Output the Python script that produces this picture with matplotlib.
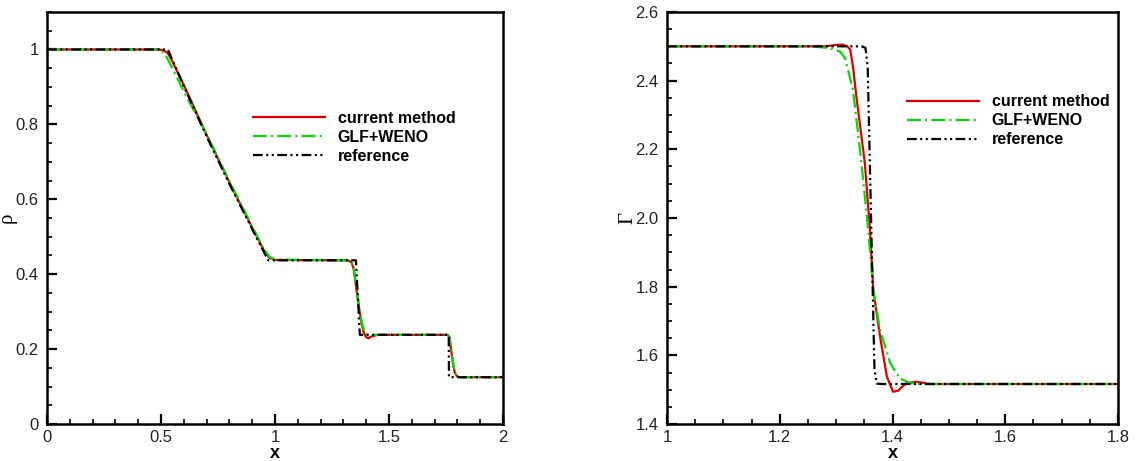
import numpy as np
import matplotlib
matplotlib.use("Agg")
import matplotlib.pyplot as plt
from matplotlib.ticker import MultipleLocator, FormatStrFormatter

plt.rcParams['font.family'] = ['Liberation Sans', 'DejaVu Sans']
plt.rcParams['lines.scale_dashes'] = False

# ---- left panel: density ----
x_rho_ref = [0.0, 0.53, 0.6, 0.7, 0.8, 0.9, 0.97, 1.355, 1.372, 1.762, 1.763, 2.0]
rho_ref = [1.0, 1.0, 0.902, 0.768, 0.641, 0.520, 0.437, 0.437, 0.238, 0.238, 0.125, 0.125]

x_rho_cur = [0.0, 0.49, 0.51, 0.53, 0.55, 0.6, 0.7, 0.8, 0.9, 0.95, 0.975, 1.0,
             1.32, 1.335, 1.345, 1.358, 1.37, 1.38, 1.39, 1.40, 1.41, 1.425, 1.45,
             1.758, 1.765, 1.772, 1.78, 1.788, 1.797, 1.81, 2.0]
rho_cur = [1.0, 1.0, 0.998, 0.99, 0.968, 0.905, 0.772, 0.645, 0.524, 0.465, 0.444, 0.438,
           0.437, 0.432, 0.415, 0.356, 0.305, 0.268, 0.243, 0.232, 0.229, 0.234, 0.238,
           0.238, 0.232, 0.2, 0.165, 0.138, 0.128, 0.125, 0.125]

x_rho_glf = [0.0, 0.48, 0.5, 0.52, 0.54, 0.57, 0.6, 0.7, 0.8, 0.9, 0.95, 0.975, 1.0,
             1.32, 1.335, 1.345, 1.358, 1.37, 1.38, 1.39, 1.40, 1.415, 1.43,
             1.757, 1.765, 1.772, 1.78, 1.788, 1.797, 1.81, 2.0]
rho_glf = [1.0, 1.0, 0.997, 0.985, 0.962, 0.925, 0.888, 0.774, 0.648, 0.528, 0.468, 0.447, 0.439,
           0.437, 0.433, 0.418, 0.36, 0.31, 0.273, 0.25, 0.241, 0.238, 0.238,
           0.238, 0.233, 0.205, 0.168, 0.14, 0.129, 0.125, 0.125]

# ---- right panel: Gamma ----
x_gam_ref = [1.0, 1.345, 1.352, 1.356, 1.362, 1.368, 1.372, 1.38, 1.8]
gam_ref = [2.5, 2.5, 2.496, 2.44, 2.0, 1.56, 1.518, 1.5165, 1.5165]

x_gam_cur = [1.0, 1.28, 1.30, 1.312, 1.32, 1.325, 1.33, 1.336, 1.351, 1.360, 1.366, 1.378,
             1.390, 1.401, 1.410, 1.418, 1.425, 1.443, 1.467, 1.8]
gam_cur = [2.5, 2.5, 2.504, 2.505, 2.5, 2.49, 2.44, 2.353, 2.159, 1.965, 1.79, 1.654,
           1.538, 1.494, 1.497, 1.51, 1.519, 1.523, 1.5165, 1.5165]

x_gam_glf = [1.0, 1.25, 1.27, 1.29, 1.307, 1.316, 1.330, 1.345, 1.357, 1.366, 1.378,
             1.396, 1.413, 1.431, 1.45, 1.8]
gam_glf = [2.5, 2.5, 2.498, 2.494, 2.485, 2.465, 2.373, 2.159, 1.965, 1.79, 1.674,
           1.577, 1.533, 1.519, 1.5165, 1.5165]

labels = ['current method', 'GLF+WENO', 'reference']

fig = plt.figure(figsize=(11.38, 4.61), dpi=100)
ax1 = fig.add_axes([47/1138, 1-424/461, 456/1138, 412/461])
ax2 = fig.add_axes([667/1138, 1-424/461, 451/1138, 412/461])

red = '#e00000'
green = '#00dd00'
lw = 1.6


def draw(ax, xc, yc, xg, yg, xr, yr):
    ax.plot(xc, yc, color=red, lw=lw, label=labels[0])
    ax.plot(xg, yg, color=green, lw=lw, dashes=(10, 3, 1.5, 3), label=labels[1])
    ax.plot(xr, yr, color='black', lw=lw, dashes=(7, 2.5, 1.5, 2.5, 1.5, 2.5), label=labels[2])


draw(ax1, x_rho_cur, rho_cur, x_rho_glf, rho_glf, x_rho_ref, rho_ref)
draw(ax2, x_gam_cur, gam_cur, x_gam_glf, gam_glf, x_gam_ref, gam_ref)

ax1.set_xlim(0, 2)
ax1.set_ylim(0, 1.1)
ax1.xaxis.set_major_locator(MultipleLocator(0.5))
ax1.xaxis.set_minor_locator(MultipleLocator(0.1))
ax1.yaxis.set_major_locator(MultipleLocator(0.2))
ax1.yaxis.set_minor_locator(MultipleLocator(0.05))
ax1.xaxis.set_major_formatter(FormatStrFormatter('%g'))
ax1.yaxis.set_major_formatter(FormatStrFormatter('%g'))

ax2.set_xlim(1, 1.8)
ax2.set_ylim(1.4, 2.6)
ax2.xaxis.set_major_locator(MultipleLocator(0.2))
ax2.xaxis.set_minor_locator(MultipleLocator(0.05))
ax2.yaxis.set_major_locator(MultipleLocator(0.2))
ax2.yaxis.set_minor_locator(MultipleLocator(0.05))
ax2.xaxis.set_major_formatter(FormatStrFormatter('%g'))
ax2.yaxis.set_major_formatter(FormatStrFormatter('%.1f'))

for ax in (ax1, ax2):
    for s in ax.spines.values():
        s.set_linewidth(1.8)
    ax.tick_params(which='both', direction='in', top=False, right=False,
                   labelsize=12, labelcolor='#222222')
    ax.tick_params(axis='x', pad=4)
    ax.tick_params(axis='y', pad=6)
    ax.tick_params(which='major', length=7, width=1.6)
    ax.tick_params(which='minor', length=3.5, width=1.2)
    ax.set_xlabel('x', fontsize=13, fontweight='bold', labelpad=0)

ax1.set_ylabel('ρ', fontsize=15, family=['Liberation Serif', 'DejaVu Serif'])
ax2.set_ylabel('Γ', fontsize=15, family=['Liberation Serif', 'DejaVu Serif'])
ax1.yaxis.set_label_coords(-0.066, 0.5)
ax2.yaxis.set_label_coords(-0.0665, 0.5)

leg_kw = dict(loc='upper left', frameon=False, handlelength=4.5, handletextpad=0.8,
              labelspacing=0.25, borderpad=0, borderaxespad=0,
              prop={'weight': 'bold', 'size': 11.5})
ax1.legend(bbox_to_anchor=(0.452, 0.76), **leg_kw)
ax2.legend(bbox_to_anchor=(0.532, 0.80), **leg_kw)

fig.savefig('out.png', dpi=100)
